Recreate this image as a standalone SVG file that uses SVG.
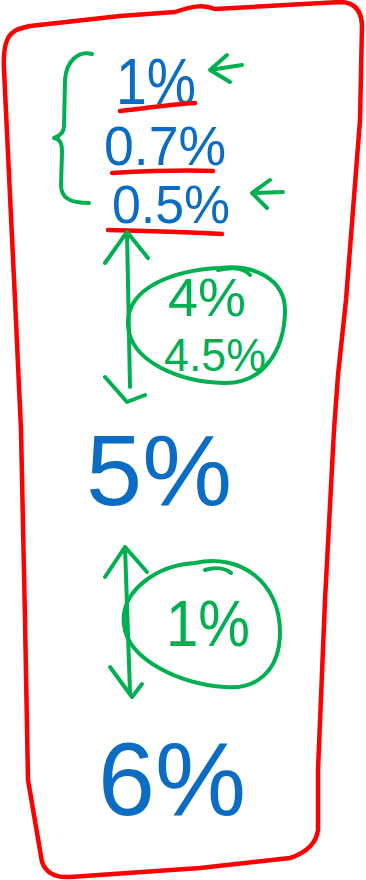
<svg xmlns="http://www.w3.org/2000/svg" width="366" height="880" viewBox="0 0 366 880">
<style>
.red{fill:none;stroke:#ff0000;stroke-width:4.5;stroke-linecap:round;stroke-linejoin:round}
.grn{fill:none;stroke:#00b050;stroke-width:4;stroke-linecap:round;stroke-linejoin:round}
.tb{fill:#0a6cc2;font-family:"Liberation Sans",Arial,sans-serif}
.tg{fill:#00b050;font-family:"Liberation Sans",Arial,sans-serif}
</style>
<rect width="366" height="880" fill="#fff"/>
<g id="frame">
<path class="red" d="M 12,33 C 6,38 3,50 4,70 L 15,300 L 21,430 L 25,620 L 28,780 L 42,862 C 46,873 55,878 70,877 L 200,868 L 290,858 C 305,853 316,845 318,830 L 318,770 L 325,600 L 334,430 L 338,375 L 346,300 L 360,120 L 362,25 C 361,8 352,2 340,2 L 215,9 C 205,5 195,5 175,12 L 120,16 L 30,26 C 20,28 15,30 12,33 Z"/>
</g>
<g id="top-group">
<path class="grn" d="M 92,54 C 78,50 66,62 65,80 L 64,126 C 64,133 60,136 54,138 C 60,139 62,143 62,152 L 61,185 C 61,198 70,203 89,203"/>
<text class="tb" x="116" y="104" font-size="64" textLength="80" lengthAdjust="spacingAndGlyphs">1%</text>
<text class="tb" x="104" y="165" font-size="56" textLength="122" lengthAdjust="spacingAndGlyphs">0.7%</text>
<text class="tb" x="112" y="223" font-size="54" textLength="118" lengthAdjust="spacingAndGlyphs">0.5%</text>
<path class="red" d="M 120,111 C 150,108 170,104 195,103"/>
<path class="red" d="M 112,173 C 150,171 185,170 213,171"/>
<path class="red" d="M 108,230 C 150,231 190,232 222,234"/>
</g>
<g id="arrow1">
<path class="grn" d="M 227,55 L 210,70 L 230,82 M 210,70 L 242,65"/>
</g>
<g id="arrow2">
<path class="grn" d="M 270,180 L 252,193 L 267,208 M 252,193 L 283,192"/>
</g>
<g id="ellipse1">
<path class="grn" d="M 220,268 C 252,264 286,278 285,312 C 284,352 262,384 224,383 C 180,382 130,362 128,325 C 126,287 175,270 220,268 Z M 218,270 C 232,267 244,268 250,275"/>
<text class="tg" x="168" y="316" font-size="54" textLength="78" lengthAdjust="spacingAndGlyphs">4%</text>
<text class="tg" x="164" y="371" font-size="46" textLength="102" lengthAdjust="spacingAndGlyphs">4.5%</text>
</g>
<g id="val5">
<text class="tb" x="86" y="505" font-size="100" textLength="146" lengthAdjust="spacingAndGlyphs">5%</text>
</g>
<g id="ellipse2">
<path class="grn" d="M 195,563 C 240,553 280,582 280,632 C 280,672 255,690 225,687 C 180,684 128,660 124,625 C 120,590 158,565 195,563 Z M 205,570 C 215,567 225,568 231,573"/>
<text class="tg" x="166" y="646" font-size="64" textLength="84" lengthAdjust="spacingAndGlyphs">1%</text>
</g>
<g id="val6">
<text class="tb" x="98" y="815" font-size="104" textLength="148" lengthAdjust="spacingAndGlyphs">6%</text>
</g>
<g id="connectors">
<path class="grn" d="M 127,233 L 130,387 M 105,263 L 127,232 L 148,258 M 105,377 L 127,402 L 145,395"/>
<path class="grn" d="M 125,547 L 130,693 M 105,577 L 125,547 L 147,572 M 110,667 L 132,697 L 142,684"/>
</g>
</svg>
